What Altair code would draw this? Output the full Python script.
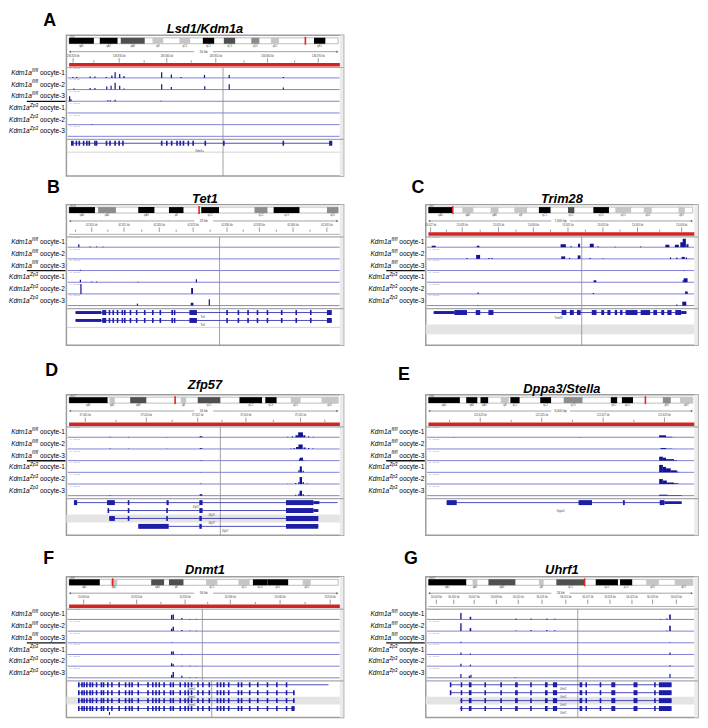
import altair as alt
import pandas as pd

FONT = "Liberation Sans"
W_LEFT, W_RIGHT, H = 280, 275, 142
XD = [-1.0, 102.0]

# ---- layout of one IGV window (local px from the top of the box) ----
IDEO = (2.5, 8.5)
RULER_Y = 16.5
TICKLAB_Y = 20.5
TICK_MAJ = (23.0, 27.5)
TICK_MIN = (25.3, 27.5)
RED = (28.0, 31.5)
TRACK_TOP = 32.5
BASE = [43.0, 54.8, 66.6, 78.4, 90.2, 102.0]
TRACK_END = 105.0
ROWS = [109.0, 117.0, 125.0, 133.0, 138.0]

# ---- track labels ----
GENE_LABEL = "Kdm1a"
SUP = ["fl/fl", "fl/fl", "fl/fl", "Zp3", "Zp3", "Zp3"]
OOC = ["oocyte-1", "oocyte-2", "oocyte-3", "oocyte-1", "oocyte-2", "oocyte-3"]
SCALE_TXT = "[0 - 10.00]"
BAND_NAMES = ["qA1", "qA2", "qA3", "qB", "qC1", "qC2", "qC3", "qD1", "qD2", "qE1",
              "qE2", "qE3", "qF1", "qF2", "qF3", "qG1", "qG2", "qG3", "qH1", "qH2"]
SHADE = {"k": "#000000", "d": "#4f4f4f", "g": "#8c8c8c", "l": "#c6c6c6"}

PEAK_C = "#13138f"
BASE_C = "#6060cc"
GENE_C = "#1d1da6"
TXT = "#000000"

# ---- panel A : Lsd1/Kdm1a ----
A = dict(
    letter="A", title="Lsd1/Kdm1a", chrom="chr4", span="50 kb",
    bands=[(0, 9.2, "k"), (11.4, 18, "k"), (19.2, 28.1, "d"), (31, 35, "l"), (41, 45, "l"),
           (49.7, 53.9, "k"), (57.5, 61.7, "d"), (67.7, 70.7, "g"), (75, 78, "l"), (91, 95.2, "k")],
    mark=87.8,
    tlab=[(1.5, "136,820 kb"), (18.6, "136,830 kb"), (36.3, "136,840 kb"), (54.5, "136,850 kb"),
          (73.7, "136,860 kb"), (92.6, "136,870 kb")],
    tmin=[9.2, 27.9, 45.4, 65.0, 83.8],
    red=True,
    peaks=[
        [(1.4, 1), (2.8, 1), (7.8, 1.5), (9.6, 1.5), (13.8, 1), (15.9, 2.5), (17.1, 5.7), (18.8, 4),
         (20.4, 2), (34.4, 5.7), (38.0, 3.5), (41.6, 1), (50.3, 3), (59.5, 3), (79.6, 1)],
        [(1.8, 1), (7.8, 1.5), (9.6, 1.5), (14.0, 3), (15.6, 4), (17.1, 7), (18.8, 4), (20.4, 1),
         (34.4, 5.5), (38.0, 2.5), (50.4, 3.5), (59.5, 5.5), (79.6, 2)],
        [(0.2, 5), (0.7, 2), (14.4, 1), (15.3, 1), (17.1, 1.5), (34.1, 0.5)],
        [],
        [(8.4, 0.5)],
        [],
    ],
    genes=[(0, 1.2, 97.6, [(0.7, 1.7), 2.7, 3.8, 5.4, 6.6, 7.5, 9.6, 10.2, 13.9, 15.2, 17.1, 18.6, 20.0,
                           34.4, 36.3, 38.1, 40.1, 41.3, 42.5, 44.3, 46.1, 50.6, 57.5, 79.6, (96.6, 97.8)])],
    names=[("Kdm1a", 48.5, 117.0)],
    gband=[], gline=[118.0],
    vline=[(57.2, TRACK_TOP, H)],
    lx=-17, ly=-14, ty=-6,
)

# ---- panel B : Tet1 ----
B = dict(
    letter="B", title="Tet1", chrom="chr10", span="29 kb",
    bands=[(0, 9.6, "k"), (10.8, 17.4, "g"), (25.7, 31.7, "k"), (37.1, 42.5, "k"), (49.1, 55.7, "k"),
           (68.9, 73.7, "g"), (76, 85.6, "k"), (95.8, 100, "g")],
    mark=48.3,
    tlab=[(8.4, "62,810 kb"), (20.4, "62,815 kb"), (33.5, "62,820 kb"), (46.1, "62,825 kb"),
          (58.7, "62,830 kb"), (70.7, "62,835 kb"), (83.2, "62,840 kb"), (95.8, "62,845 kb")],
    tmin=[2.4, 14.4, 27.0, 39.8, 52.4, 64.7, 77.0, 89.5],
    red=False,
    peaks=[
        [(3.6, 3), (7.8, 0.7), (10.2, 0.7), (12.6, 0.5)],
        [],
        [(4.2, 0.8)],
        [(4.2, 2.5), (8.4, 0.7), (10.2, 0.7), (25.7, 0.4), (47.3, 3)],
        [(4.4, 10), (45.7, 6, 0.7)],
        [(25.4, 2), (45.7, 3, 1.0), (52.1, 6.5)],
    ],
    genes=[(r, 2.4, 97.6, [(2.4, 12.0, 3), (12.3, 13.8), 15.0, 16.4, 18.0, 19.8, 20.7, 22.8, 25.1, 28.1,
                           31.1, 33.9, 38.3, 39.2, (44.7, 47.5), 58.7, 62.9, 66.5, 70.0, 73.7, 79.0,
                           84.4, 89.8, (95.8, 97.6)]) for r in (0, 1)],
    names=[("Tet1", 49.7, 113.5), ("Tet1", 49.7, 121.5)],
    gband=[], gline=[124.0],
    vline=[(55.9, TRACK_TOP, H)],
    lx=-13, ly=-17, ty=-6,
)

# ---- panel C : Trim28 ----
C = dict(
    letter="C", title="Trim28", chrom="chr7", span="7,000 bp",
    bands=[(0, 9.2, "k"), (12.8, 17, "l"), (23.5, 26.5, "l"), (32.5, 37.3, "l"), (41.8, 46.2, "k"),
           (52.8, 55.2, "d"), (62.4, 68.3, "k"), (70.7, 76.7, "l"), (81.5, 84.5, "l"), (94.6, 97, "l")],
    mark=9.2,
    tlab=[(0.8, "13,027 kb"), (12.8, "13,028 kb"), (26.5, "13,029 kb"), (39.7, "13,030 kb"),
          (52.8, "13,031 kb"), (66.0, "13,032 kb"), (79.1, "13,033 kb"), (95.8, "13,034 kb")],
    tmin=[6.8, 19.6, 33.1, 46.2, 59.4, 72.5, 87.5],
    red=True,
    peaks=[
        [(2.0, 1.5, 1.5), (18.8, 1.5, 1.0), (51.0, 3, 2.0), (54.0, 1), (57.0, 3.5, 0.8), (61.8, 3.5, 1.5),
         (64.2, 1), (70.7, 0.5), (80.3, 0.7), (90.4, 2.5, 1.5), (94.0, 2.5, 1.5), (95.8, 5, 1.0),
         (96.8, 8.5, 1.2), (98.0, 3, 0.8)],
        [(14.6, 1), (18.8, 4, 1.5), (22.9, 1), (24.1, 1), (51.0, 2.5, 1.5), (53.4, 1), (57.0, 3.5, 1.0),
         (61.2, 1), (66.0, 0.5), (91.6, 1.5), (94.0, 1.5), (96.4, 2, 1.2), (97.6, 1.5)],
        [(57.6, 0.4), (96.8, 0.5)],
        [(63.0, 2, 1.0), (96.4, 2), (97.3, 4, 1.5)],
        [(18.8, 1.5), (62.4, 1), (97.6, 2.5, 1.0)],
        [(18.8, 0.5), (94.0, 1), (96.8, 4, 1.5)],
    ],
    genes=[(0, 2.0, 97.6, [(2.0, 9.8, 3), (9.8, 14.6), (17.9, 19.6), (22.7, 24.6), (50.4, 52.2), (53.5, 55.0),
                           (56.2, 57.6), (61.8, 63.6), (65.4, 66.5), (67.7, 68.9), (70.5, 71.4), (72.5, 73.4),
                           (74.6, 79.1), (80.3, 83.9), (85.1, 86.5), (88.1, 89.2), (90.4, 92.0), (93.4, 95.6),
                           (95.6, 97.6, 3)])],
    names=[("Trim28", 49.2, 114.5)],
    gband=[(121.0, 131.0)], gline=[],
    vline=[(58.0, TRACK_TOP, H)],
    lx=-8, ly=-17, ty=-6,
)

# ---- panel D : Zfp57 ----
D = dict(
    letter="D", title="Zfp57", chrom="chr17", span="16 kb",
    bands=[(0, 14.3, "k"), (15, 17, "l"), (22.7, 28.7, "d"), (41.5, 43.5, "l"), (47.8, 56.2, "d"),
           (63.3, 71.7, "k"), (72.9, 77.1, "k"), (82.4, 86, "l"), (93.8, 99.8, "l")],
    mark=39.4,
    tlab=[(6.0, "37,005 kb"), (28.7, "37,010 kb"), (47.8, "37,015 kb"), (65.7, "37,020 kb"),
          (86.0, "37,025 kb")],
    tmin=[17.4, 38.3, 56.8, 75.9, 95.0],
    red=True,
    peaks=[
        [(15.3, 0.5), (22.1, 0.4), (36.4, 0.4), (49.0, 1, 1.0), (81.2, 0.5), (83.0, 1), (84.6, 2, 1.0),
         (86.0, 5, 1.8), (87.4, 2, 0.8), (89.0, 1), (90.8, 0.5)],
        [(15.3, 0.5), (22.1, 0.3), (36.4, 0.3), (49.0, 0.8, 1.0), (82.4, 0.5), (83.6, 1), (84.8, 2, 1.0),
         (86.0, 4.5, 1.6), (87.5, 1.5, 0.8), (89.0, 1), (90.6, 0.5)],
        [(49.0, 0.3), (85.6, 1.5), (86.3, 3, 1.2), (87.2, 0.5)],
        [(49.0, 0.3), (85.4, 2), (86.1, 6, 0.8), (87.0, 1.5)],
        [(49.0, 0.5), (81.2, 0.3), (84.2, 1), (85.4, 2), (86.1, 7, 0.9), (87.0, 2), (88.4, 0.5)],
        [(15.3, 0.5), (49.0, 1.5, 1.0), (84.2, 1), (85.4, 2), (86.1, 5, 0.9), (87.0, 1.5), (89.0, 0.5)],
    ],
    genes=[
        (0, 1.8, 99.8, [(1.8, 3.0), (14.1, 17.0), 22.1, (36.2, 37.0), (48.4, 49.6), (80.6, 90.8), (90.8, 93.0, 3)]),
        (1, 14.3, 92.6, [(14.3, 14.9), 22.1, 36.4, (48.4, 49.6), (80.6, 90.8), (90.8, 92.6, 3)]),
        (2, 14.9, 92.6, [(14.9, 17.0), 22.1, 36.4, (48.4, 49.3), (80.6, 92.6)]),
        (3, 25.7, 92.6, [(25.7, 37.0), (48.4, 49.3), (80.6, 92.6)]),
    ],
    names=[("Zfp57", 47.2, 113.5), ("Zfp57", 53.0, 121.5), ("Zfp57", 53.0, 129.5), ("Zfp57", 58.0, 137.5)],
    gband=[(121.0, 129.0)], gline=[],
    vline=[(56.2, TRACK_TOP, H)],
    lx=-15, ly=-24, ty=-10,
)

# ---- panel E : Dppa3/Stella ----
E = dict(
    letter="E", title="Dppa3/Stella", chrom="chr6", span="6,000 bp",
    bands=[(0, 11.9, "k"), (14.3, 18.5, "k"), (19.7, 22.6, "k"), (27.4, 30.4, "l"), (31, 34.5, "k"),
           (42.3, 46.4, "k"), (51.2, 58.3, "g"), (69, 71.4, "k"), (73.2, 77.4, "k"), (88.7, 91.7, "g"),
           (95.2, 100, "l")],
    mark=82.1,
    tlab=[(19.6, "122,623 kb"), (42.9, "122,625 kb"), (66.1, "122,627 kb"), (89.3, "122,629 kb")],
    tmin=[8.0, 31.3, 54.5, 77.7],
    red=True,
    peaks=[
        [(9.5, 0.3), (57.1, 0.3), (88.6, 2, 2.6), (91.1, 0.5, 2.4)],
        [(88.85, 1, 2.1), (91.1, 0.3, 2.4)],
        [(88.0, 4, 1.4), (89.3, 3, 1.2), (91.4, 1.5, 3.0), (93.45, 0.5, 1.1)],
        [(88.0, 7.5, 1.4), (89.3, 5.5, 1.2), (90.8, 4, 1.8), (92.85, 2, 2.3), (94.3, 0.8, 0.6)],
        [(88.0, 5, 1.4), (89.45, 3.5, 1.5), (91.55, 1.5, 2.7), (93.75, 0.7, 1.7)],
        [(88.9, 1, 3.2), (93.15, 0.5, 5.3)],
    ],
    genes=[(0, 6.9, 95.8, [(6.9, 10.7), (56.8, 61.9), (73.6, 74.3), (87.5, 89.3), (89.3, 95.8, 3)])],
    names=[("Dppa3", 50.0, 117.5)],
    gband=[], gline=[],
    vline=[],
    lx=-22, ly=-20, ty=-6,
)

# ---- panel F : Dnmt1 ----
F_EX = [3.6, 4.8, 5.6, 6.6, 7.8, 8.7, 10.2, 12.0, 12.8, 14.4, 15.9, 18.6, 21.0, 22.4, 23.4, 25.7, 29.3,
        31.1, 32.3, 33.5, 35.3, 37.7, 38.7, 41.3, 43.1, 44.3, 45.5, 47.9, 49.7, 52.1, 55.1, 56.3, 57.5,
        59.3, 62.9, 64.1, 67.1, 70.1, 73.7, 77.2, 80.8]
F = dict(
    letter="F", title="Dnmt1", chrom="chr9", span="56 kb",
    bands=[(0, 11.4, "k"), (15.5, 17.9, "l"), (30.5, 35.3, "d"), (37.1, 42.5, "d"), (50.9, 55.1, "l"),
           (62.9, 67.1, "l"), (68.3, 73.7, "k"), (73.7, 81.4, "k"), (86.8, 89.8, "l")],
    mark=16.2,
    tlab=[(5.4, "20,900 kb"), (25.1, "20,910 kb"), (43.1, "20,920 kb"), (59.9, "20,930 kb"),
          (78.4, "20,940 kb"), (97.0, "20,950 kb")],
    tmin=[15.2, 34.1, 51.5, 69.2, 87.7],
    red=True,
    peaks=[
        [(38.1, 4.5, 0.5), (38.7, 5, 0.5), (41.9, 1.5), (44.9, 0.5), (47.3, 0.5)],
        [(38.1, 2.5, 0.5), (38.7, 4.5, 0.5), (41.9, 1), (44.9, 0.5), (47.3, 0.5)],
        [(38.3, 0.5)],
        [(38.1, 3, 0.5), (38.7, 3, 0.5), (41.9, 0.5), (44.9, 0.3)],
        [(38.1, 3, 0.5), (38.7, 2, 0.5), (41.9, 0.5), (44.9, 0.3), (47.3, 0.3)],
        [(38.1, 3, 0.5), (38.7, 6, 0.5), (41.9, 2), (44.9, 0.5), (47.3, 0.5)],
    ],
    genes=[(0, 3.6, 96.4, F_EX), (1, 3.6, 83.8, F_EX + [83.5]), (2, 3.6, 83.8, F_EX + [83.5]),
           (3, 3.6, 83.8, F_EX + [(82.6, 83.8)]), (4, 14.8, 15.2, [(14.8, 15.2, 3)])],
    names=[("Dnmt1", 45.5, 113.5), ("Dnmt1", 45.5, 121.5), ("Dnmt1", 45.5, 129.5)],
    gband=[(121.0, 129.0)], gline=[],
    vline=[(49.5, TRACK_TOP, TRACK_END), (53.0, TRACK_END, H)],
    lx=-18, ly=-18, ty=-7,
)

# ---- panel G : Uhrf1 ----
G_EX = [12.5, (15.3, 16.3), 21.5, 27.5, (32.8, 33.8), 38.8, (44.1, 45.1), (47.1, 48.7), (57.2, 58.2), 59.7,
        65.1, (69.2, 70.7), (77.6, 79.1), 85.7, (87.2, 92.0)]
G = dict(
    letter="G", title="Uhrf1", chrom="chr17", span="24 kb",
    bands=[(0, 14.3, "k"), (16.7, 18.5, "l"), (22.7, 32.9, "d"), (41.8, 43.6, "l"), (48.4, 59.1, "d"),
           (63.3, 71.7, "k"), (72.5, 77.1, "k"), (82.4, 87.2, "l"), (93.2, 99.8, "l")],
    mark=59.1,
    tlab=[(3.0, "56,003 kb"), (9.6, "56,005 kb"), (17.3, "56,007 kb"), (25.7, "56,009 kb"), (34.0, "56,011 kb"),
          (43.0, "56,013 kb"), (52.0, "56,015 kb"), (60.3, "56,017 kb"), (68.7, "56,019 kb"),
          (77.0, "56,021 kb"), (84.8, "56,023 kb"), (93.8, "56,025 kb")],
    tmin=[],
    red=False,
    peaks=[
        [(12.3, 6.5, 0.5), (15.9, 2.7, 0.6), (33.1, 1), (38.8, 1), (44.8, 1), (47.8, 0.8), (87.8, 0.5),
         (90.2, 1), (91.4, 5, 0.6)],
        [(12.3, 8, 0.5), (15.9, 3, 0.6), (33.1, 0.5), (38.8, 1), (44.8, 1), (47.8, 0.8), (90.2, 0.5),
         (91.4, 5.5, 0.6)],
        [(12.3, 1), (91.4, 0.5)],
        [(12.3, 2), (15.9, 1), (91.4, 2)],
        [(12.3, 2.5), (15.9, 1.5), (91.4, 1)],
        [(12.3, 4), (15.5, 2), (16.1, 3), (32.9, 0.5), (91.4, 4)],
    ],
    genes=[(0, 8.4, 92.0, [8.4] + G_EX), (1, 8.4, 92.0, [8.4] + G_EX),
           (2, 11.9, 92.0, G_EX), (3, 11.9, 92.0, G_EX)],
    names=[("Uhrf1", 51.0, 113.5), ("Uhrf1", 51.0, 121.5), ("Uhrf1", 51.0, 129.5), ("Uhrf1", 51.0, 137.5)],
    gband=[(121.0, 129.0)], gline=[],
    vline=[(56.5, TRACK_TOP, H)],
    lx=-15, ly=-18, ty=-7,
)

AW = {"o": .556, "c": .5, "y": .5, "t": .278, "e": .556, "-": .333, "1": .556, "2": .556, "3": .556,
      " ": .278, "f": .278, "l": .222, "/": .278, "Z": .611, "p": .556, "K": .667, "d": .556, "m": .833, "a": .556}


def tw(s, fs):
    return sum(AW.get(ch, .556) for ch in s) * fs


def exon(e):
    if isinstance(e, (int, float)):
        return (e - 0.3, e + 0.3, 5)
    if len(e) == 2:
        return (e[0], e[1], 5)
    return e


def build(p, W):
    xs = alt.Scale(domain=XD, nice=False, zero=False)
    ys = alt.Scale(domain=[0, H], reverse=True, nice=False, zero=False)
    px = (XD[1] - XD[0]) / W  # data units per pixel, for things placed left of the box

    def X(f):
        return alt.X(f"{f}:Q", scale=xs, axis=None)

    def Y(f):
        return alt.Y(f"{f}:Q", scale=ys, axis=None)

    def rects(df, **kw):
        return alt.Chart(df).mark_rect(**kw).encode(x=X("x1"), x2="x2:Q", y=Y("y1"), y2="y2:Q")

    def rules(df, **kw):
        return alt.Chart(df).mark_rule(**kw).encode(x=X("x1"), x2="x2:Q", y=Y("y1"), y2="y2:Q")

    def texts(df, **kw):
        return alt.Chart(df).mark_text(font=FONT, **kw).encode(x=X("x"), y=Y("y"), text="t:N")

    L = []
    # right scrollbar strip & gene-panel bands
    L.append(rects(pd.DataFrame({"x1": [100.6], "x2": [102.0], "y1": [0.0], "y2": [float(H)]}), color="#ebebeb"))
    if p["gband"]:
        L.append(rects(pd.DataFrame([{"x1": -1.0, "x2": 100.6, "y1": a, "y2": b} for a, b in p["gband"]]),
                       color="#e4e4e4"))
    # ideogram
    L.append(rects(pd.DataFrame({"x1": [0.0], "x2": [100.0], "y1": [IDEO[0]], "y2": [IDEO[1]]}),
                   fill="white", stroke="#7a7a7a", strokeWidth=0.5))
    bdf = pd.DataFrame([{"x1": a, "x2": b, "y1": IDEO[0], "y2": IDEO[1], "c": SHADE[s]} for a, b, s in p["bands"]])
    L.append(alt.Chart(bdf).mark_rect().encode(x=X("x1"), x2="x2:Q", y=Y("y1"), y2="y2:Q",
                                               color=alt.Color("c:N", scale=None)))
    L.append(rects(pd.DataFrame({"x1": [p["mark"] - 0.3], "x2": [p["mark"] + 0.3], "y1": [1.5], "y2": [9.5]}),
                   color="#e3261f"))
    ndf = pd.DataFrame([{"x": (a + b) / 2, "y": 10.6, "t": BAND_NAMES[i % len(BAND_NAMES)]}
                        for i, (a, b, s) in enumerate(p["bands"])])
    L.append(texts(ndf, fontSize=2.6, color="#555"))
    L.append(texts(pd.DataFrame({"x": [0.2], "y": [1.2], "t": [p["chrom"]]}), fontSize=2.6, color="#555",
                   align="left"))
    # ruler
    L.append(rules(pd.DataFrame({"x1": [0.3], "x2": [99.7], "y1": [RULER_Y], "y2": [RULER_Y]}),
                   color="#666", strokeWidth=0.6))
    for xv, shp in ((0.3, "triangle-left"), (99.7, "triangle-right")):
        L.append(alt.Chart(pd.DataFrame({"x": [xv], "y": [RULER_Y]})).mark_point(
            shape=shp, filled=True, size=6, color="#666", opacity=1).encode(x=X("x"), y=Y("y")))
    L.append(rects(pd.DataFrame({"x1": [46.5], "x2": [53.5], "y1": [RULER_Y - 1.6], "y2": [RULER_Y + 1.6]}),
                   color="white"))
    L.append(texts(pd.DataFrame({"x": [50.0], "y": [RULER_Y], "t": [p["span"]]}), fontSize=3.2, color="#333"))
    tdf = pd.DataFrame([{"x1": x, "x2": x, "y1": TICK_MAJ[0], "y2": TICK_MAJ[1]} for x, _ in p["tlab"]]
                       + [{"x1": x, "x2": x, "y1": TICK_MIN[0], "y2": TICK_MIN[1]} for x in p["tmin"]])
    L.append(rules(tdf, color="#555", strokeWidth=0.6))
    L.append(texts(pd.DataFrame([{"x": x, "y": TICKLAB_Y, "t": t} for x, t in p["tlab"]]),
                   fontSize=2.6, color="#444"))
    # red locus bar or plain divider
    if p["red"]:
        L.append(rects(pd.DataFrame({"x1": [0.0], "x2": [100.6], "y1": [RED[0]], "y2": [RED[1]]}), color="#d22424"))
    else:
        L.append(rules(pd.DataFrame({"x1": [0.0], "x2": [100.6], "y1": [30.0], "y2": [30.0]}),
                       color="#9a9a9a", strokeWidth=0.8))
    sep = pd.DataFrame({"x1": [-1.0, -1.0], "x2": [102.0, 102.0], "y1": [TRACK_TOP, TRACK_END],
                        "y2": [TRACK_TOP, TRACK_END]})
    L.append(rules(sep, color="#a8a8a8", strokeWidth=1.2))
    for gl in p["gline"]:
        L.append(rules(pd.DataFrame({"x1": [-1.0], "x2": [100.6], "y1": [gl], "y2": [gl]}),
                       color="#b5b5b5", strokeWidth=0.6))
    # track baselines, scale texts, peaks
    L.append(rules(pd.DataFrame({"x1": [-0.5] * 6, "x2": [100.5] * 6, "y1": BASE, "y2": BASE}),
                   color=BASE_C, strokeWidth=0.8))
    L.append(texts(pd.DataFrame({"x": [0.1] * 6, "y": [b - 10.2 for b in BASE], "t": [SCALE_TXT] * 6}),
                   fontSize=2.4, color="#888", align="left"))
    prow = []
    for ti, tr in enumerate(p["peaks"]):
        for pk in tr:
            c, h = pk[0], pk[1]
            w = pk[2] if len(pk) > 2 else 0.45
            prow.append({"x1": c - w / 2, "x2": c + w / 2, "y1": BASE[ti] - h, "y2": BASE[ti]})
    L.append(rects(pd.DataFrame(prow), color=PEAK_C))
    # vertical centre line
    if p["vline"]:
        L.append(rules(pd.DataFrame([{"x1": v, "x2": v, "y1": a, "y2": b} for v, a, b in p["vline"]]),
                       color="#8a8a8a", strokeWidth=0.8))
    # gene models
    glines, gex = [], []
    for r, s, e, exs in p["genes"]:
        y = ROWS[r]
        glines.append({"x1": s, "x2": e, "y1": y, "y2": y})
        for ex in exs:
            a, b, th = exon(ex)
            gex.append({"x1": a, "x2": b, "y1": y - th / 2, "y2": y + th / 2})
    L.append(rules(pd.DataFrame(glines), color=GENE_C, strokeWidth=0.8))
    L.append(rects(pd.DataFrame(gex), color=GENE_C))
    L.append(texts(pd.DataFrame([{"x": x, "y": y, "t": t} for t, x, y in p["names"]]), fontSize=2.6, color="#444"))

    # sample labels outside the box
    fs, fss = 6.6, 4.7
    lab = pd.DataFrame({"y": [b - 5.0 for b in BASE], "sup": SUP, "ooc": OOC, "g": [GENE_LABEL] * 6})
    w_ooc = tw("oocyte-1", fs)
    gap = tw(" ", fs)
    L.append(alt.Chart(lab).mark_text(align="right", baseline="middle", font=FONT, fontSize=fs, color=TXT)
             .encode(x=alt.value(-1.5), y=Y("y"), text="ooc:N"))
    for s in ("fl/fl", "Zp3"):
        sub = lab[lab["sup"] == s]
        ws = tw(s, fss)
        L.append(alt.Chart(sub).mark_text(align="right", baseline="middle", font=FONT, fontSize=fss,
                                          fontStyle="italic", color=TXT, dx=-(w_ooc + gap), dy=-2.4)
                 .encode(x=alt.value(-1.5), y=Y("y"), text="sup:N"))
        L.append(alt.Chart(sub).mark_text(align="right", baseline="middle", font=FONT, fontSize=fs,
                                          fontStyle="italic", color=TXT, dx=-(w_ooc + gap + ws + 0.3))
                 .encode(x=alt.value(-1.5), y=Y("y"), text="g:N"))
    # underline separating the two genotypes (filled bar left of the box)
    L.append(rects(pd.DataFrame({"x1": [XD[0] - 40 * px], "x2": [XD[0] - 1 * px],
                                 "y1": [BASE[2] - 0.6], "y2": [BASE[2] + 0.8]}),
                   color="#111", clip=False))
    # panel letter & gene title
    L.append(alt.Chart(pd.DataFrame({"t": [p["letter"]]})).mark_text(
        font=FONT, fontSize=18, fontWeight="bold", color="#000", baseline="middle", align="center")
        .encode(x=alt.value(p["lx"]), y=alt.value(p["ly"]), text="t:N"))
    L.append(alt.Chart(pd.DataFrame({"t": [p["title"]]})).mark_text(
        font=FONT, fontSize=13, fontWeight="bold", fontStyle="italic", color="#000", baseline="middle",
        align="center").encode(x=alt.value(W / 2), y=alt.value(p["ty"]), text="t:N"))

    return alt.layer(*L).properties(width=W, height=H)


pA = build(A, W_LEFT)
pB, pC = build(B, W_LEFT), build(C, W_RIGHT)
pD, pE = build(D, W_LEFT), build(E, W_RIGHT)
pF, pG = build(F, W_LEFT), build(G, W_RIGHT)

row_bc = alt.hconcat(pB, pC, spacing=22).resolve_scale(x="independent", y="independent")
row_de = alt.hconcat(pD, pE, spacing=22).resolve_scale(x="independent", y="independent")
row_fg = alt.hconcat(pF, pG, spacing=22).resolve_scale(x="independent", y="independent")

top = alt.vconcat(pA, row_bc, spacing=0).resolve_scale(x="independent", y="independent")
bottom = alt.vconcat(row_de, row_fg, spacing=12).resolve_scale(x="independent", y="independent")

chart = (alt.vconcat(top, bottom, spacing=14)
         .resolve_scale(x="independent", y="independent")
         .properties(padding=0)
         .configure_view(stroke="#9d9d9d", strokeWidth=1.5))

chart.save("out.html", embed_options={"renderer": "svg", "actions": False})
